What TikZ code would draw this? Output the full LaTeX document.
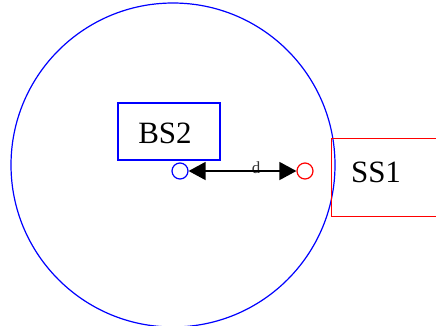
\documentclass[tikz,border=0pt]{standalone}
\usepackage{fontspec}
\setmainfont{Liberation Serif}
\usetikzlibrary{arrows.meta}
\begin{document}
\begin{tikzpicture}[x=1pt,y=-1pt,
  lbl/.style={font=\fontsize{31}{33}\selectfont, inner sep=0pt},
  dot/.style={circle, draw, line width=1.2pt, minimum size=16pt, inner sep=0pt},
  box/.style={draw, line width=1.3pt, inner sep=0pt}]
\useasboundingbox (0,0) rectangle (436,325);
\node[circle, draw=blue, line width=1.2pt, minimum size=324pt, inner sep=0pt] (cell) at (173,165) {};
\node[box, draw=blue, minimum width=102pt, minimum height=57pt] (bs2) at (169,131.5) {};
\node[lbl] (bs2t) at (165,133) {BS2};
\node[box, draw=red, minimum width=120pt, minimum height=78pt, anchor=north west] (ss1box) at (331,138) {};
\node[lbl] (ss1) at (376,172) {SS1};
\node[dot, draw=blue] (bsdot) at (180,171) {};
\node[dot, draw=red] (ssdot) at (305,171) {};
\node[font=\fontsize{17}{17}\selectfont, text=black!80, inner sep=0pt, anchor=base] (dlbl) at (256,173) {d};
\draw[line width=1.5pt, {Triangle[length=17pt,width=18pt]}-{Triangle[length=17pt,width=18pt]}] (bsdot) -- (ssdot);
\end{tikzpicture}
\end{document}
